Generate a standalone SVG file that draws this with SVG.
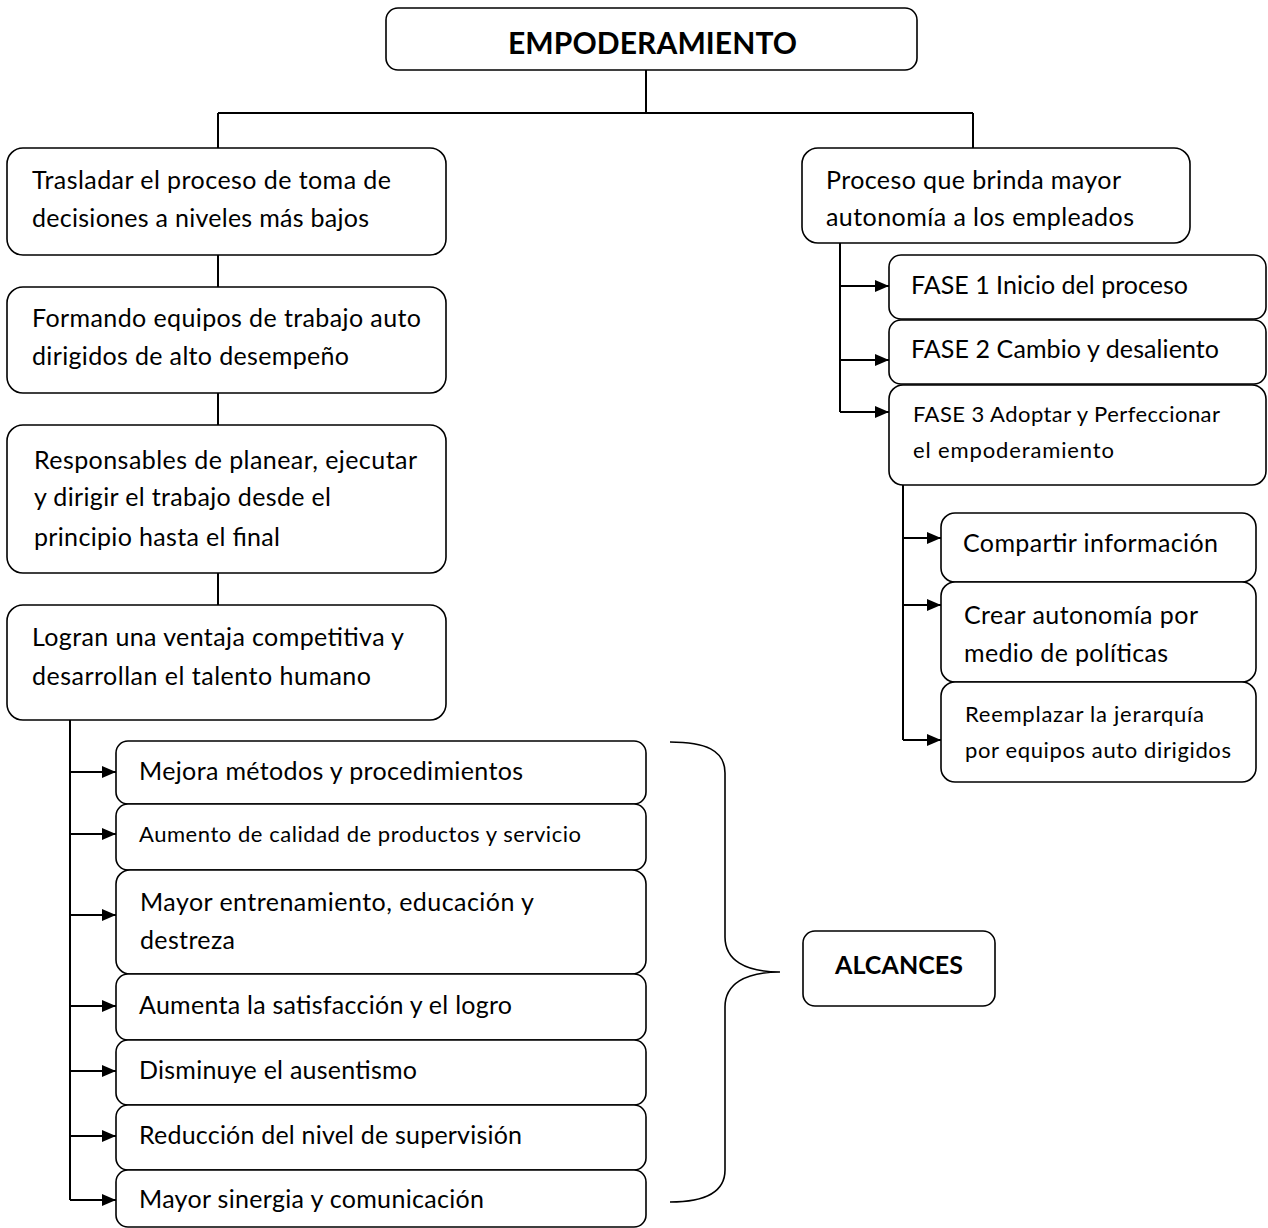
<svg xmlns="http://www.w3.org/2000/svg" width="1268" height="1228" viewBox="0 0 1268 1228">
  <defs>
    <marker id="arrow" viewBox="0 0 14 12" refX="14" refY="6" markerWidth="14" markerHeight="12" markerUnits="userSpaceOnUse" orient="auto">
      <path d="M0,0 L14,6 L0,12 Z" fill="#000"/>
    </marker>
  </defs>
  <style>
    .box { fill: #fff; stroke: #000; stroke-width: 1.6; }
    .t { font-family: Lato, "Open Sans", "Liberation Sans", sans-serif; font-size: 25px; fill: #000; }
    .s { font-size: 22px; }
    .b { font-weight: bold; }
    .title { font-size: 30px; }
    .label { font-size: 25px; }
    .line { fill: none; stroke: #000; stroke-width: 2; }
    .arr { fill: none; stroke: #000; stroke-width: 2; marker-end: url(#arrow); }
    .brace { fill: none; stroke: #000; stroke-width: 1.6; }
  </style>
  <rect width="1268" height="1228" fill="#fff"/>

  <!-- connectors -->
  <g id="connectors">
    <path class="line" d="M646,70 V113 M218,113 H973 M218,113 V148 M973,113 V148"/>
    <path class="line" d="M218,255 V287 M218,393 V425 M218,573 V605"/>
    <!-- left spine to the ALCANCES list -->
    <path class="line" d="M70,720 V1200"/>
    <path class="arr" d="M70,772 H116"/>
    <path class="arr" d="M70,834 H116"/>
    <path class="arr" d="M70,915 H116"/>
    <path class="arr" d="M70,1006 H116"/>
    <path class="arr" d="M70,1071 H116"/>
    <path class="arr" d="M70,1136 H116"/>
    <path class="arr" d="M70,1200 H116"/>
    <!-- right spine to the phases -->
    <path class="line" d="M840,243 V412"/>
    <path class="arr" d="M840,286 H889"/>
    <path class="arr" d="M840,360 H889"/>
    <path class="arr" d="M840,412 H889"/>
    <!-- phase 3 spine -->
    <path class="line" d="M903,485 V740"/>
    <path class="arr" d="M903,538 H941"/>
    <path class="arr" d="M903,605 H941"/>
    <path class="arr" d="M903,740 H941"/>
    <!-- brace grouping the outcomes -->
    <path class="brace" d="M670,742 C705,742 725,750 725,773 L725,937 C725,960 745,972 780,972 C745,972 725,984 725,1007 L725,1170 C725,1192 705,1202 670,1202"/>
  </g>

  <g id="root">
    <rect class="box" x="386" y="8" width="531" height="62" rx="12"/>
    <text class="t b title" x="508" y="54" textLength="289">EMPODERAMIENTO</text>
  </g>

  <g id="trasladar">
    <rect class="box" x="7" y="148" width="439" height="107" rx="16"/>
    <text class="t" x="32" y="189" textLength="359">Trasladar el proceso de toma de</text>
    <text class="t" x="32" y="227" textLength="337">decisiones a niveles más bajos</text>
  </g>

  <g id="formando">
    <rect class="box" x="7" y="287" width="439" height="106" rx="16"/>
    <text class="t" x="32" y="327" textLength="389">Formando equipos de trabajo auto</text>
    <text class="t" x="32" y="365" textLength="317">dirigidos de alto desempeño</text>
  </g>

  <g id="responsables">
    <rect class="box" x="7" y="425" width="439" height="148" rx="16"/>
    <text class="t" x="34" y="469" textLength="383">Responsables de planear, ejecutar</text>
    <text class="t" x="34" y="506" textLength="297">y dirigir el trabajo desde el</text>
    <text class="t" x="34" y="546" textLength="246">principio hasta el final</text>
  </g>

  <g id="logran">
    <rect class="box" x="7" y="605" width="439" height="115" rx="16"/>
    <text class="t" x="32" y="646" textLength="372">Logran una ventaja competitiva y</text>
    <text class="t" x="32" y="685" textLength="339">desarrollan el talento humano</text>
  </g>

  <g id="proceso">
    <rect class="box" x="802" y="148" width="388" height="95" rx="16"/>
    <text class="t" x="826" y="189" textLength="295">Proceso que brinda mayor</text>
    <text class="t" x="826" y="226" textLength="308">autonomía a los empleados</text>
  </g>

  <g id="fase1">
    <rect class="box" x="889" y="255" width="377" height="64" rx="12"/>
    <text class="t" x="911" y="294" textLength="277">FASE 1 Inicio del proceso</text>
  </g>

  <g id="fase2">
    <rect class="box" x="889" y="320" width="377" height="64" rx="12"/>
    <text class="t" x="911" y="358" textLength="308">FASE 2 Cambio y desaliento</text>
  </g>

  <g id="fase3">
    <rect class="box" x="889" y="385" width="377" height="100" rx="14"/>
    <text class="t s" x="913" y="422" textLength="307">FASE 3 Adoptar y Perfeccionar</text>
    <text class="t s" x="913" y="458" textLength="201">el empoderamiento</text>
  </g>

  <g id="compartir">
    <rect class="box" x="941" y="513" width="315" height="69" rx="14"/>
    <text class="t" x="963" y="552" textLength="255">Compartir información</text>
  </g>

  <g id="crear">
    <rect class="box" x="941" y="582" width="315" height="100" rx="14"/>
    <text class="t" x="964" y="624" textLength="234">Crear autonomía por</text>
    <text class="t" x="964" y="662" textLength="204">medio de políticas</text>
  </g>

  <g id="reemplazar">
    <rect class="box" x="941" y="682" width="315" height="100" rx="14"/>
    <text class="t s" x="965" y="722" textLength="239">Reemplazar la jerarquía</text>
    <text class="t s" x="965" y="758" textLength="266">por equipos auto dirigidos</text>
  </g>

  <g id="mejora">
    <rect class="box" x="116" y="741" width="530" height="63" rx="12"/>
    <text class="t" x="139" y="780" textLength="384">Mejora métodos y procedimientos</text>
  </g>

  <g id="aumento">
    <rect class="box" x="116" y="804" width="530" height="66" rx="12"/>
    <text class="t s" x="139" y="842" textLength="442">Aumento de calidad de productos y servicio</text>
  </g>

  <g id="entrenamiento">
    <rect class="box" x="116" y="870" width="530" height="104" rx="14"/>
    <text class="t" x="140" y="911" textLength="394">Mayor entrenamiento, educación y</text>
    <text class="t" x="140" y="949" textLength="95">destreza</text>
  </g>

  <g id="satisfaccion">
    <rect class="box" x="116" y="974" width="530" height="66" rx="12"/>
    <text class="t" x="139" y="1014" textLength="373">Aumenta la satisfacción y el logro</text>
  </g>

  <g id="ausentismo">
    <rect class="box" x="116" y="1040" width="530" height="65" rx="12"/>
    <text class="t" x="139" y="1079" textLength="278">Disminuye el ausentismo</text>
  </g>

  <g id="supervision">
    <rect class="box" x="116" y="1105" width="530" height="65" rx="12"/>
    <text class="t" x="139" y="1144" textLength="383">Reducción del nivel de supervisión</text>
  </g>

  <g id="sinergia">
    <rect class="box" x="116" y="1170" width="530" height="57" rx="12"/>
    <text class="t" x="139" y="1208" textLength="345">Mayor sinergia y comunicación</text>
  </g>

  <g id="alcances">
    <rect class="box" x="803" y="931" width="192" height="75" rx="12"/>
    <text class="t b label" x="835" y="974" textLength="128">ALCANCES</text>
  </g>
</svg>
